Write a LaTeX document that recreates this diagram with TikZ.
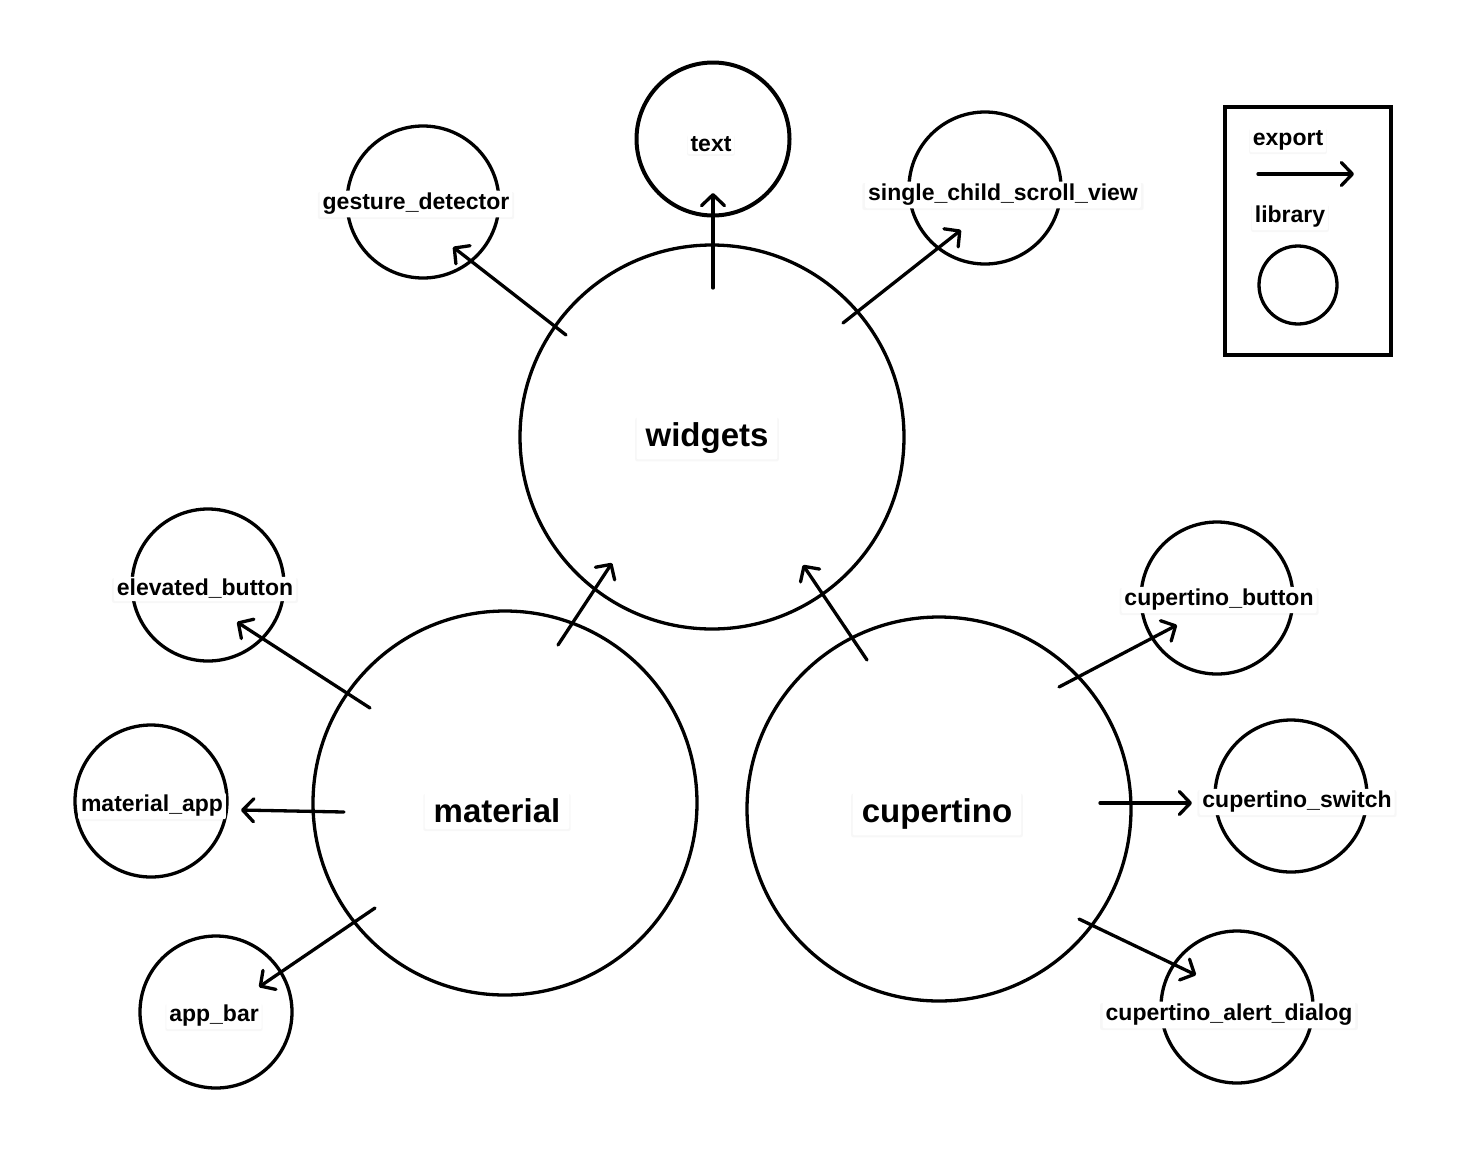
\documentclass[tikz,border=0pt]{standalone}
\usepackage{fontspec}
\setmainfont{Liberation Sans}
\usetikzlibrary{arrows.meta,shadows}
\begin{document}
\begin{tikzpicture}[x=1pt,y=-1pt,
  big/.style={circle,draw,line width=3.3pt,minimum size=384pt,inner sep=0pt},
  lib/.style={circle,draw,line width=3.3pt,minimum size=152pt,inner sep=0pt},
  arr/.style={line width=3.3pt,line cap=round,-{Straight Barb[length=11pt,width=23pt,round]}},
  lbl/.style={fill=white,rounded corners=2pt,inner xsep=3pt,inner ysep=2.5pt,
    font=\fontsize{23}{27}\selectfont\bfseries,
    drop shadow={opacity=0.06,shadow xshift=0pt,shadow yshift=-1.5pt,shadow scale=1.02}},
  biglbl/.style={lbl,inner xsep=9pt,inner ysep=6pt,font=\fontsize{33}{38}\selectfont\bfseries}
]
\useasboundingbox[fill=white] (0,0) rectangle (1480,1152);

% big circles
\node[big] (widgets) at (712,437) {};
\node[big] (material) at (505,803) {};
\node[big] (cupertino) at (939,809) {};

% library circles
\node[lib,line width=4pt,minimum size=153pt] (text) at (713,139) {};
\node[lib] (gesture) at (423,202) {};
\node[lib] (scv) at (985,188) {};
\node[lib] (elevated) at (208,585) {};
\node[lib] (mapp) at (151,801) {};
\node[lib] (appbar) at (216,1012) {};
\node[lib] (cbutton) at (1217,598) {};
\node[lib] (cswitch) at (1291,796) {};
\node[lib] (calert) at (1237,1007) {};

% arrows
\draw[arr] ([shift={(-146,-102)}]widgets.center) -- ([shift={(30,45)}]gesture.center);
\draw[arr] ([shift={(1,-149)}]widgets.center) -- ([shift={(0,54)}]text.center);
\draw[arr] ([shift={(131,-114)}]widgets.center) -- ([shift={(-24,42)}]scv.center);
\draw[arr] ([shift={(53,-158)}]material.center) -- ([shift={(-100,126)}]widgets.center);
\draw[arr] ([shift={(-72,-149)}]cupertino.center) -- ([shift={(91,128)}]widgets.center);
\draw[arr] ([shift={(-135,-95)}]material.center) -- ([shift={(29,37)}]elevated.center);
\draw[arr] ([shift={(-161,9)}]material.center) -- ([shift={(90,9)}]mapp.center);
\draw[arr] ([shift={(-130,105)}]material.center) -- ([shift={(43,-25)}]appbar.center);
\draw[arr] ([shift={(120,-122)}]cupertino.center) -- ([shift={(-40,27)}]cbutton.center);
\draw[arr] ([shift={(161,-6)}]cupertino.center) -- ([shift={(-99,7)}]cswitch.center);
\draw[arr] ([shift={(140,110)}]cupertino.center) -- ([shift={(-41,-32)}]calert.center);

% labels
\node[biglbl] (widgets-l) at (707,438) {widgets};
\node[biglbl] (material-l) at (497,811) {material};
\node[biglbl] (cupertino-l) at (937,814) {cupertino};
\node[lbl] (text-l) at (711,144) {text};
\node[lbl] (gesture-l) at (416,204) {gesture\_detector};
\node[lbl] (scv-l) at (1003,195) {single\_child\_scroll\_view};
\node[lbl] (elevated-l) at (205,589) {elevated\_button};
\node[lbl] (mapp-l) at (152,806) {material\_app};
\node[lbl] (appbar-l) at (214,1016) {app\_bar};
\node[lbl] (cbutton-l) at (1219,600) {cupertino\_button};
\node[lbl] (cswitch-l) at (1297,802) {cupertino\_switch};
\node[lbl] (calert-l) at (1229,1015) {cupertino\_alert\_dialog};

% legend
\node[draw,line width=3.3pt,minimum width=166pt,minimum height=248pt,inner sep=0pt] (legend) at (1308,231) {};
\node[lbl] (export-l) at (1288,140) {export};
\coordinate (ex-a) at (1258,174);
\coordinate (ex-b) at (1354,174);
\draw[arr] (ex-a) -- (ex-b);
\node[lbl] (library-l) at (1290,217) {library};
\node[circle,draw,line width=3.3pt,minimum size=78pt,inner sep=0pt] (lib-sym) at (1298,285) {};
\end{tikzpicture}
\end{document}
